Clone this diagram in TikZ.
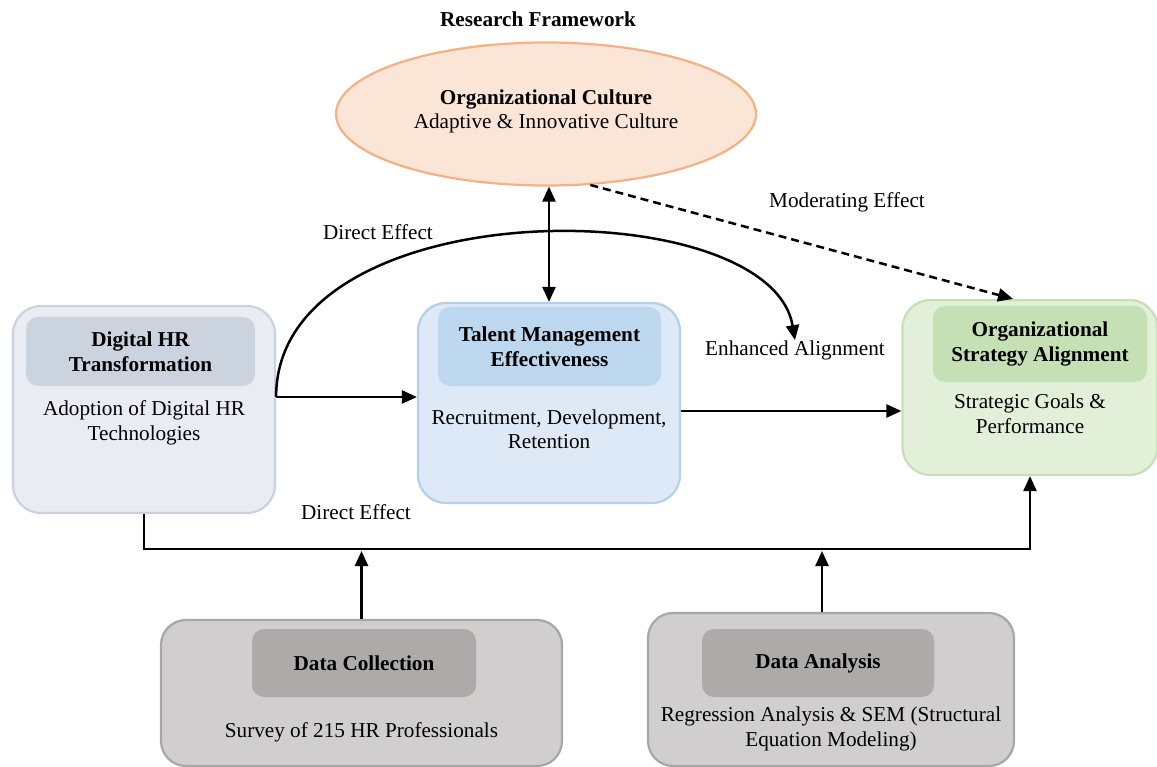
\documentclass[tikz,border=0pt]{standalone}
\usepackage{fontspec}
\setmainfont{Liberation Serif}
\usetikzlibrary{shapes.geometric,arrows.meta}
\definecolor{dhOut}{HTML}{E9EDF3}
\definecolor{dhLine}{HTML}{C9D2DE}
\definecolor{dhIn}{HTML}{CBD3DE}
\definecolor{tmOut}{HTML}{DDE9F6}
\definecolor{tmLine}{HTML}{B5CFEA}
\definecolor{tmIn}{HTML}{BDD7EE}
\definecolor{saOut}{HTML}{E2F0D9}
\definecolor{saLine}{HTML}{C5E0B4}
\definecolor{saIn}{HTML}{C5E0B4}
\definecolor{ocFill}{HTML}{FBE5D6}
\definecolor{ocLine}{HTML}{F4B183}
\definecolor{grOut}{HTML}{D0CECE}
\definecolor{grLine}{HTML}{A9A6A6}
\definecolor{grIn}{HTML}{AEAAAA}
\begin{document}
\begin{tikzpicture}[x=1pt,y=-1pt,
  every node/.style={font=\rmfamily\fontsize{21.2}{24.5}\selectfont, align=center, inner sep=0pt},
  outerbox/.style={rectangle, rounded corners=28pt, line width=2.2pt},
  innerbox/.style={rectangle, rounded corners=12pt, draw=none, font=\rmfamily\fontsize{21.2}{24.5}\selectfont\bfseries},
  arr/.style={line width=2.5pt, -{Triangle[length=15pt,width=13pt]}},
  darr/.style={line width=2.5pt, {Triangle[length=15pt,width=13pt]}-{Triangle[length=15pt,width=13pt]}},
  lbl/.style={font=\rmfamily\fontsize{21.2}{24.5}\selectfont}
]
\useasboundingbox (0,0) rectangle (1157,767);

% title
\node[font=\rmfamily\fontsize{21.2}{24.5}\selectfont\bfseries] (title) at (538,19) {Research Framework};

% organizational culture
\node[ellipse, draw=ocLine, fill=ocFill, line width=2.2pt, minimum width=420pt, minimum height=143pt] (OC) at (546,114) {};
\node (OCt) at (546,111.5) {\textbf{Organizational Culture}\\Adaptive \& Innovative Culture};

% Digital HR
\node[outerbox, draw=dhLine, fill=dhOut, minimum width=262pt, minimum height=207pt] (D) at (144,409.5) {};
\node[innerbox, fill=dhIn, minimum width=229pt, minimum height=69pt] (Dh) at (140.5,351.5) {Digital HR\\Transformation};
\node (Db) at (144,423) {Adoption of Digital HR\\Technologies};

% Talent management
\node[outerbox, draw=tmLine, fill=tmOut, minimum width=262pt, minimum height=200pt] (T) at (549,403) {};
\node[innerbox, fill=tmIn, minimum width=223pt, minimum height=79pt] (Th) at (549.5,346.5) {Talent Management\\Effectiveness};
\node (Tb) at (549,429) {Recruitment, Development,\\Retention};

% Strategy alignment
\node[outerbox, draw=saLine, fill=saOut, minimum width=255pt, minimum height=175pt] (S) at (1030,387.5) {};
\node[innerbox, fill=saIn, minimum width=214pt, minimum height=76pt] (Sh) at (1040,344) {Organizational\\Strategy Alignment};
\node (Sb) at (1030,413.5) {Strategic Goals \&\\Performance};

% Data collection
\node[outerbox, rounded corners=25pt, draw=grLine, fill=grOut, minimum width=401pt, minimum height=146pt] (C) at (361.5,693) {};
\node[innerbox, fill=grIn, minimum width=224pt, minimum height=68pt] (Ch) at (364,663) {Data Collection};
\node (Cb) at (361.5,732) {Survey of 215 HR Professionals};

% Data analysis
\node[outerbox, rounded corners=25pt, draw=grLine, fill=grOut, minimum width=366pt, minimum height=153pt] (A) at (831,689.5) {};
\node[innerbox, fill=grIn, minimum width=232pt, minimum height=68pt] (Ah) at (818,663) {Data Analysis};
\node (Ab) at (831,729) {Regression Analysis \& SEM (Structural\\Equation Modeling)};

% labels
\node[lbl] (L1) at (378,232) {Direct Effect};
\node[lbl] (L2) at (847,202) {Moderating Effect};
\node[lbl] (L3) at (356,512) {Direct Effect};
\node[lbl] (EA) at (795,350) {Enhanced Alignment};

% connectors
\coordinate (dstart) at ([yshift=12.5pt]D.east);
\draw[arr] (dstart) -- (dstart -| T.west);
\draw[arr] (dstart) .. controls ([yshift=209pt]dstart) and ([xshift=-25pt,yshift=150pt]EA.north) .. (EA.north);
\draw[darr] (OC.south -| T.north) -- (T.north);
\draw[arr, dash pattern=on 8pt off 5pt] (OC.-58) -- ([xshift=-17pt]S.north);
\draw[arr] ([yshift=-8pt]T.east) -- ([yshift=-8pt]T.east -| S.west);

\coordinate (busL) at (D.south |- 0,549);
\coordinate (busR) at (S.south |- 0,549);
\draw[arr] (D.south) -- (busL) -- (busR) -- (S.south);
\draw[arr] (C.north) -- (C.north |- 0,551);
\coordinate (Atop) at ([xshift=-9pt]A.north);
\draw[arr] (Atop) -- (Atop |- 0,551);
\end{tikzpicture}
\end{document}
